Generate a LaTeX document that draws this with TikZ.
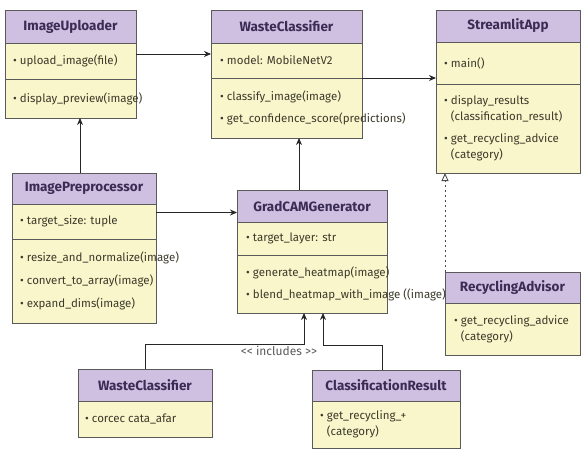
\documentclass[tikz,border=0pt]{standalone}
\usepackage{fontspec}
\setmainfont{Fira Sans}
\usetikzlibrary{arrows.meta, positioning}
\definecolor{hdrfill}{HTML}{CFC0E1}
\definecolor{secfill}{HTML}{FAF6CC}
\definecolor{boxline}{HTML}{5A5A5A}
\definecolor{hdrtext}{HTML}{3A2C55}
\definecolor{bodytext}{HTML}{3C3A2A}
\tikzset{
  hdr/.style={draw=boxline, line width=0.9pt, fill=hdrfill, anchor=north west,
    inner sep=0pt, outer sep=0pt, text=hdrtext, font=\bfseries\fontsize{13.5}{15}\selectfont},
  sec/.style={draw=boxline, line width=0.9pt, fill=secfill, anchor=north,
    inner sep=0pt, outer sep=0pt},
  txt/.style={anchor=west, align=left, inner sep=0pt, text=bodytext,
    font=\fontsize{11.5}{16}\selectfont},
  arr/.style={draw=black!85, line width=0.9pt, -{Stealth[length=7pt, width=6pt]}},
}
\newcommand{\itm}{\textbullet\ }
\begin{document}
\begin{tikzpicture}[x=1pt, y=-1pt]
\useasboundingbox (0,0) rectangle (583,452);
% top row
\node[hdr, minimum width=131pt, minimum height=33pt] (up) at (5,10) {ImageUploader};
\node[sec, minimum width=131pt, minimum height=36pt, below=0pt of up] (up1) {};
\node[sec, minimum width=131pt, minimum height=39pt, below=0pt of up1] (up2) {};
\node[txt] at ([xshift=8pt]up1.west) {\itm upload\_image(file)};
\node[txt] at ([xshift=8pt]up2.west) {\itm display\_preview(image)};
%
\node[hdr, minimum width=151pt, minimum height=33pt] (wc) at (211,10) {WasteClassifier};
\node[sec, minimum width=151pt, minimum height=35pt, below=0pt of wc] (wc1) {};
\node[sec, minimum width=151pt, minimum height=60pt, below=0pt of wc1] (wc2) {};
\node[txt] at ([xshift=9pt]wc1.west) {\itm model: MobileNetV2};
\node[txt] at ([xshift=9pt]wc2.west) {\itm classify\_image(image)\\[6pt]\itm get\_confidence\_score(predictions)};
%
\node[hdr, minimum width=144pt, minimum height=32pt] (app) at (436,10) {StreamlitApp};
\node[sec, minimum width=144pt, minimum height=42pt, below=0pt of app] (app1) {};
\node[sec, minimum width=144pt, minimum height=89pt, below=0pt of app1] (app2) {};
\node[txt] at ([xshift=8pt]app1.west) {\itm main()};
\node[txt] at ([xshift=8pt]app2.west) {\itm display\_results\\\phantom{\itm}(classification\_result)\\[6pt]\itm get\_recycling\_advice\\\phantom{\itm}(category)};
% middle row
\node[hdr, minimum width=144pt, minimum height=31pt] (pre) at (12,173) {ImagePreprocessor};
\node[sec, minimum width=144pt, minimum height=35pt, below=0pt of pre] (pre1) {};
\node[sec, minimum width=144pt, minimum height=84pt, below=0pt of pre1] (pre2) {};
\node[txt] at ([xshift=8pt]pre1.west) {\itm target\_size: tuple};
\node[txt] at ([xshift=8pt]pre2.west) {\itm resize\_and\_normalize(image)\\[7pt]\itm convert\_to\_array(image)\\[7pt]\itm expand\_dims(image)};
%
\node[hdr, minimum width=150pt, minimum height=32pt] (cam) at (237,190) {GradCAMGenerator};
\node[sec, minimum width=150pt, minimum height=33pt, below=0pt of cam] (cam1) {};
\node[sec, minimum width=150pt, minimum height=58pt, below=0pt of cam1] (cam2) {};
\node[txt] at ([xshift=9pt]cam1.west) {\itm target\_layer: str};
\node[txt] at ([xshift=9pt]cam2.west) {\itm generate\_heatmap(image)\\[6pt]\itm blend\_heatmap\_with\_image ((image)};
%
\node[hdr, minimum width=135pt, minimum height=31pt] (adv) at (445,272) {RecyclingAdvisor};
\node[sec, minimum width=135pt, minimum height=52pt, below=0pt of adv] (adv1) {};
\node[txt] at ([xshift=9pt]adv1.west) {\itm get\_recycling\_advice\\\phantom{\itm}(category)};
% bottom row
\node[hdr, minimum width=134pt, minimum height=32pt] (wcb) at (78,369) {WasteClassifier};
\node[sec, minimum width=134pt, minimum height=36pt, below=0pt of wcb] (wcb1) {};
\node[txt] at ([xshift=7pt]wcb1.west) {\itm corcec cata\_afar};
%
\node[hdr, minimum width=148pt, minimum height=31pt] (res) at (312,370) {ClassificationResult};
\node[sec, minimum width=148pt, minimum height=47pt, below=0pt of res] (res1) {};
\node[txt] at ([xshift=8pt]res1.west) {\itm get\_recycling\_+\\\phantom{\itm}(category)};
% connectors
\draw[arr] ([yshift=7pt]up1.east) -- ([yshift=7pt]up1.east -| wc1.west);
\draw[arr] (wc1.south east) -- (wc1.south east -| app1.west);
\draw[arr] ([xshift=-4pt]pre.north) -- ([xshift=-4pt]pre.north |- up2.south);
\draw[arr] ([yshift=9pt]pre1.east) -- ([yshift=9pt]pre1.east -| cam1.west);
\draw[arr] ([xshift=-13pt]cam.north) -- ([xshift=-13pt]cam.north |- wc2.south);
\draw[draw=black!70, line width=0.9pt, dash pattern=on 2.5pt off 2.5pt, -{Triangle[open, length=8pt, width=7pt]}]
  (adv.north west) -- (adv.north west |- app2.south);
%
\coordinate (inc1) at (304,344);
\coordinate (inc2) at (323,345);
\draw[arr] (wcb.north) |- (inc1) -- (inc1 |- cam2.south);
\draw[arr] ([xshift=-4pt]res.north) |- (inc2) -- (inc2 |- cam2.south);
\node[inner sep=0pt, text=black!65, font=\fontsize{12}{14}\selectfont] (inc) at (279,351) {{<}{<} includes {>}{>}};
\end{tikzpicture}
\end{document}
